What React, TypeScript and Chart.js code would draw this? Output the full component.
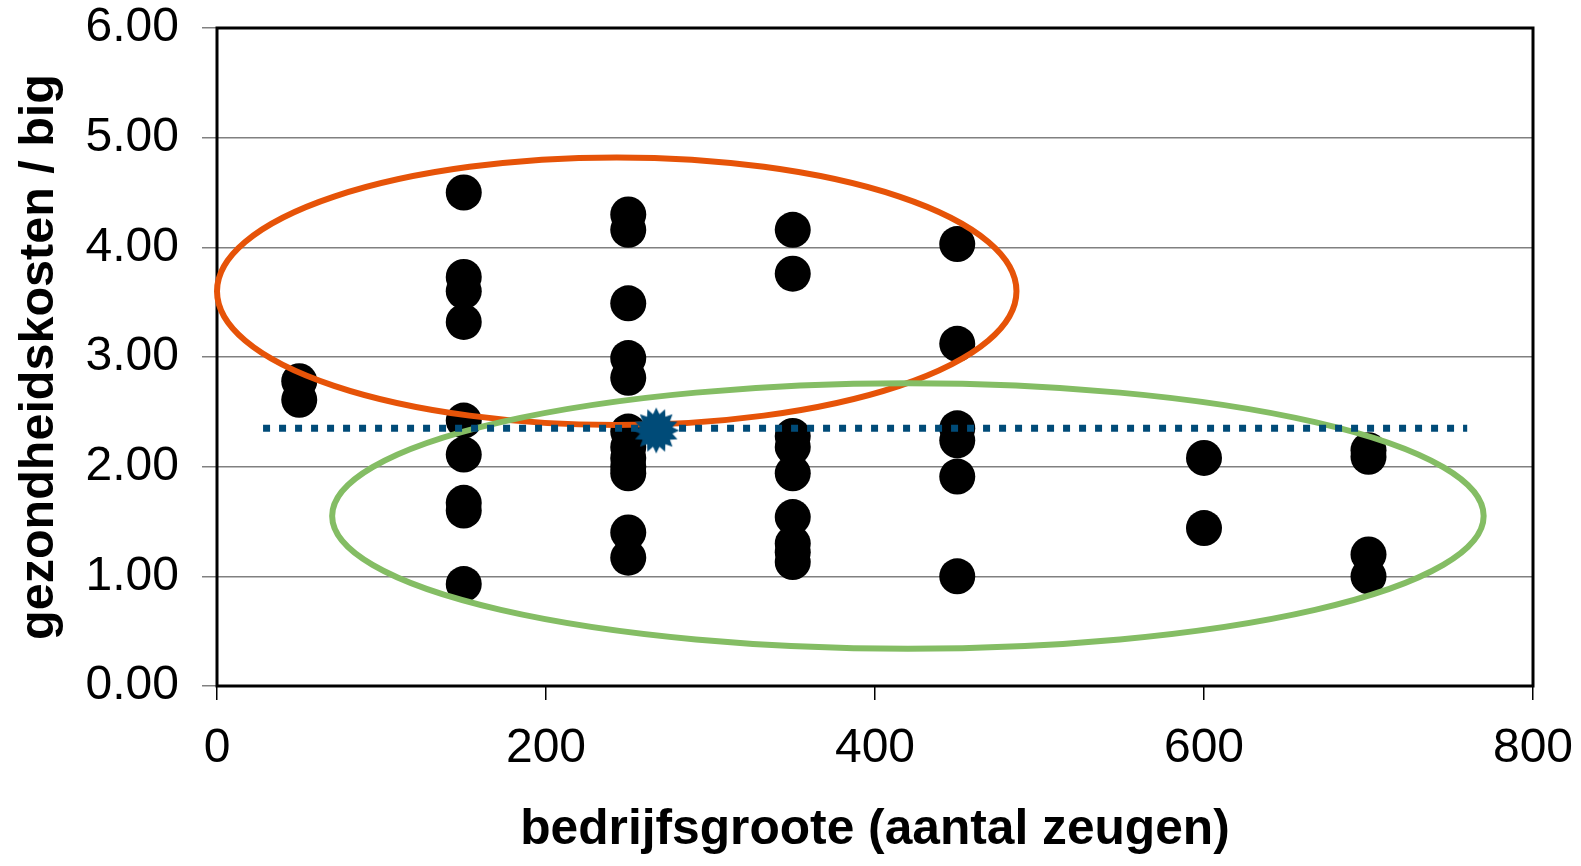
import { useEffect, useRef } from "react";
import { Chart, registerables } from "chart.js";

Chart.register(...registerables);

// ---- data ----
const xTickValues = [0, 200, 400, 600, 800];
const yTickValues = [0, 1, 2, 3, 4, 5, 6];

const farmSizes = [50, 150, 250, 350, 450, 600, 700];
const costsAt50 = [2.78, 2.61];
const costsAt150 = [4.5, 3.73, 3.6, 3.32, 2.42, 2.11, 1.67, 1.6, 0.93];
const costsAt250 = [4.3, 4.16, 3.49, 2.99, 2.81, 2.32, 2.18, 2.08, 2.0, 1.94, 1.4, 1.17];
const costsAt350 = [4.16, 3.76, 2.28, 2.18, 1.94, 1.54, 1.3, 1.22, 1.13];
const costsAt450 = [4.03, 3.12, 2.35, 2.24, 1.91, 1.0];
const costsAt600 = [2.08, 1.44];
const costsAt700 = [2.15, 2.09, 1.2, 1.0];
const costGroups = [costsAt50, costsAt150, costsAt250, costsAt350, costsAt450, costsAt600, costsAt700];

const averageLineX = [28, 760];
const averageCost = 2.35;
const averageFarmX = [267];
const averageFarmY = [2.33];

// ellipses in data units: [centerX, centerY, radiusX, radiusY]
const orangeEllipse = [243, 3.6, 243, 1.22];
const greenEllipse = [420, 1.55, 350, 1.21];

const FONT = "'Liberation Sans', Arial, Helvetica, sans-serif";

function makeStar(): HTMLCanvasElement {
  const c = document.createElement("canvas");
  const size = 48;
  c.width = size;
  c.height = size;
  const ctx = c.getContext("2d")!;
  const n = 16;
  const R = 23;
  const r = 16.5;
  ctx.beginPath();
  for (let i = 0; i < n * 2; i++) {
    const a = (Math.PI * i) / n - Math.PI / 2;
    const rad = i % 2 === 0 ? R : r;
    const px = size / 2 + rad * Math.cos(a);
    const py = size / 2 + rad * Math.sin(a);
    if (i === 0) ctx.moveTo(px, py);
    else ctx.lineTo(px, py);
  }
  ctx.closePath();
  ctx.fillStyle = "#004b78";
  ctx.fill();
  return c;
}

function zeroPadding(scale: any) {
  scale.paddingTop = 0;
  scale.paddingBottom = 0;
  scale.paddingLeft = 0;
  scale.paddingRight = 0;
}

export default function App() {
  const ref = useRef<HTMLCanvasElement | null>(null);

  useEffect(() => {
    if (!ref.current) return;

    const scatterPoints: { x: number; y: number }[] = [];
    farmSizes.forEach((s, i) => {
      costGroups[i].forEach((v) => scatterPoints.push({ x: s, y: v }));
    });

    const framePlugin = {
      id: "frame",
      beforeDatasetsDraw(chart: any) {
        const { ctx, chartArea } = chart;
        ctx.save();
        ctx.strokeStyle = "#000";
        ctx.lineWidth = 3;
        ctx.strokeRect(chartArea.left, chartArea.top, chartArea.right - chartArea.left, chartArea.bottom - chartArea.top);
        ctx.restore();
      },
    };

    const ellipsePlugin = {
      id: "ellipses",
      afterDatasetDraw(chart: any, args: any) {
        if (args.index !== 0) return;
        const { ctx } = chart;
        const xs = chart.scales.x;
        const ys = chart.scales.y;
        const draw = (e: number[], color: string) => {
          const cx = xs.getPixelForValue(e[0]);
          const cy = ys.getPixelForValue(e[1]);
          const rx = Math.abs(xs.getPixelForValue(e[0] + e[2]) - cx);
          const ry = Math.abs(ys.getPixelForValue(e[1] + e[3]) - cy);
          ctx.save();
          ctx.beginPath();
          ctx.ellipse(cx, cy, rx, ry, 0, 0, Math.PI * 2);
          ctx.strokeStyle = color;
          ctx.lineWidth = 6;
          ctx.stroke();
          ctx.restore();
        };
        draw(orangeEllipse, "#e65308");
        draw(greenEllipse, "#84bd64");
      },
    };

    const chart = new Chart(ref.current, {
      type: "scatter",
      data: {
        datasets: [
          {
            label: "bedrijven",
            data: scatterPoints,
            backgroundColor: "#000",
            borderWidth: 0,
            pointRadius: 18,
            pointHoverRadius: 18,
            order: 3,
          },
          {
            type: "line",
            label: "gemiddelde",
            data: averageLineX.map((x) => ({ x, y: averageCost })),
            borderColor: "#004b78",
            borderWidth: 7,
            borderDash: [7, 9],
            borderCapStyle: "butt",
            pointRadius: 0,
            fill: false,
            order: 2,
          },
          {
            label: "gemiddeld bedrijf",
            data: averageFarmX.map((x, i) => ({ x, y: averageFarmY[i] })),
            pointStyle: makeStar() as any,
            pointRadius: 23,
            order: 1,
          },
        ] as any,
      },
      options: {
        animation: false,
        responsive: false,
        events: [],
        layout: { padding: { top: 28, right: 48, left: 0, bottom: 0 } },
        plugins: {
          legend: { display: false },
          tooltip: { enabled: false },
        },
        scales: {
          x: {
            type: "linear",
            min: 0,
            max: 800,
            afterBuildTicks(scale: any) {
              scale.ticks = xTickValues.map((v) => ({ value: v }));
            },
            afterFit(scale: any) {
              scale.height = 180;
              zeroPadding(scale);
            },
            border: { display: false },
            grid: {
              drawOnChartArea: false,
              drawTicks: true,
              tickLength: 14,
              color: "#000",
              lineWidth: 1.5,
            },
            ticks: {
              padding: 20,
              color: "#000",
              font: { family: FONT, size: 48 },
              maxRotation: 0,
              callback: (v: any) => String(v),
            },
            title: {
              display: true,
              text: "bedrijfsgroote (aantal zeugen)",
              color: "#000",
              font: { family: FONT, size: 49.7, weight: "bold" },
              padding: { top: 0, bottom: 6 },
            },
          },
          y: {
            type: "linear",
            min: 0,
            max: 6,
            afterBuildTicks(scale: any) {
              scale.ticks = yTickValues.map((v) => ({ value: v }));
            },
            afterFit(scale: any) {
              scale.width = 217;
              zeroPadding(scale);
            },
            border: { display: false },
            grid: {
              color: "#808080",
              lineWidth: 1.5,
              tickLength: 15,
            },
            ticks: {
              padding: 23,
              color: "#000",
              font: { family: FONT, size: 48 },
              callback: (v: any) => Number(v).toFixed(2),
            },
            title: {
              display: true,
              text: "gezondheidskosten / big",
              color: "#000",
              font: { family: FONT, size: 48.5, weight: "bold" },
              padding: { top: 11, bottom: 0 },
            },
          },
        },
      },
      plugins: [framePlugin, ellipsePlugin],
    } as any);

    return () => chart.destroy();
  }, []);

  return (
    <canvas
      ref={ref}
      width={1581}
      height={866}
      style={{ position: "absolute", left: 0, top: 0, width: 1581, height: 866, display: "block" }}
    />
  );
}
